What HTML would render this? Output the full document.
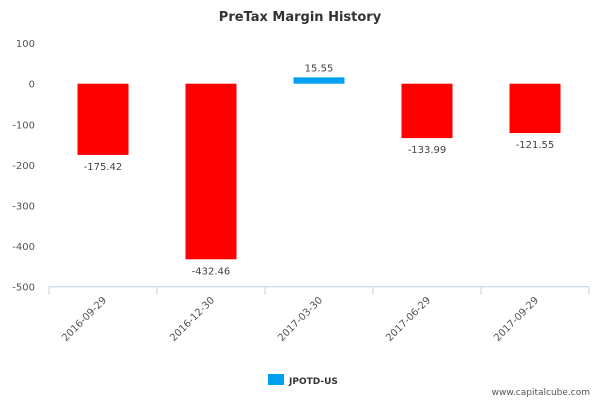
<!DOCTYPE html>
<html><head><meta charset="utf-8"><style>
body{margin:0;background:#fff;font-family:"Liberation Sans","DejaVu Sans",sans-serif}
svg text{font-family:"DejaVu Sans","Liberation Sans",sans-serif}
</style></head><body>
<svg id="chart" width="600" height="400">
<text x="300" y="21" text-anchor="middle" font-size="13" font-weight="bold" fill="#333">PreTax Margin History</text>
<g id="yaxis"></g>
<g id="bars"></g>
<g id="xaxis"></g>
<g>
<rect x="268" y="374" width="16" height="11" fill="#00a0f0"/>
<text x="289" y="384" font-size="9" font-weight="bold" fill="#333">JPOTD-US</text>
</g>
<text x="590" y="395" text-anchor="end" font-size="9" fill="#555">www.capitalcube.com</text>
</svg>
<script>
const categories=["2016-09-29","2016-12-30","2017-03-30","2017-06-29","2017-09-29"];
const values=[-175.42,-432.46,15.55,-133.99,-121.55];
const yTicks=[100,0,-100,-200,-300,-400,-500];
const NS="http://www.w3.org/2000/svg";
const left=49,right=589,y0=83.7,pxPer=0.4060;
function y(v){return y0-v*pxPer;}
const band=(right-left)/categories.length;
function xc(i){return left+band*(i+0.5);}
function mk(tag,attrs,parent,txt){const e=document.createElementNS(NS,tag);for(const k in attrs)e.setAttribute(k,attrs[k]);if(txt!==undefined)e.textContent=txt;parent.appendChild(e);return e;}
const ya=document.getElementById('yaxis'),ba=document.getElementById('bars'),xa=document.getElementById('xaxis');
yTicks.forEach(t=>{const e=mk('text',{x:35,y:y(t)+4,'text-anchor':'end','font-size':'10',fill:'#555'},ya,String(t));

});
const base=y(-500);
const al=mk('line',{x1:left,x2:right,y1:base,y2:base,stroke:'#c0d0e0','stroke-width':1},xa);


for(let i=0;i<=categories.length;i++){const x=left+band*i;const t=mk('line',{x1:x,x2:x,y1:base,y2:base+8,stroke:'#c0d0e0'},xa);

}
categories.forEach((c,i)=>{const x=xc(i);
const lb=mk('text',{x:x+4,y:base+14,'text-anchor':'end','font-size':'10',fill:'#555',transform:`rotate(-45 ${x+4} ${base+14})`},xa,c);


const v=values[i];const top=Math.min(y(v),y(0)),h=Math.abs(y(v)-y(0));
const r=mk('rect',{x:x-25.5,y:top,width:51,height:h,fill:v<0?'#ff0000':'#00a0f0'},ba);


const ty=v<0?y(v)+15:y(v)-6;
const vl=mk('text',{x:x,y:ty,'text-anchor':'middle','font-size':'10',fill:'#444'},ba,v.toFixed(2));

});
</script>
</body></html>
